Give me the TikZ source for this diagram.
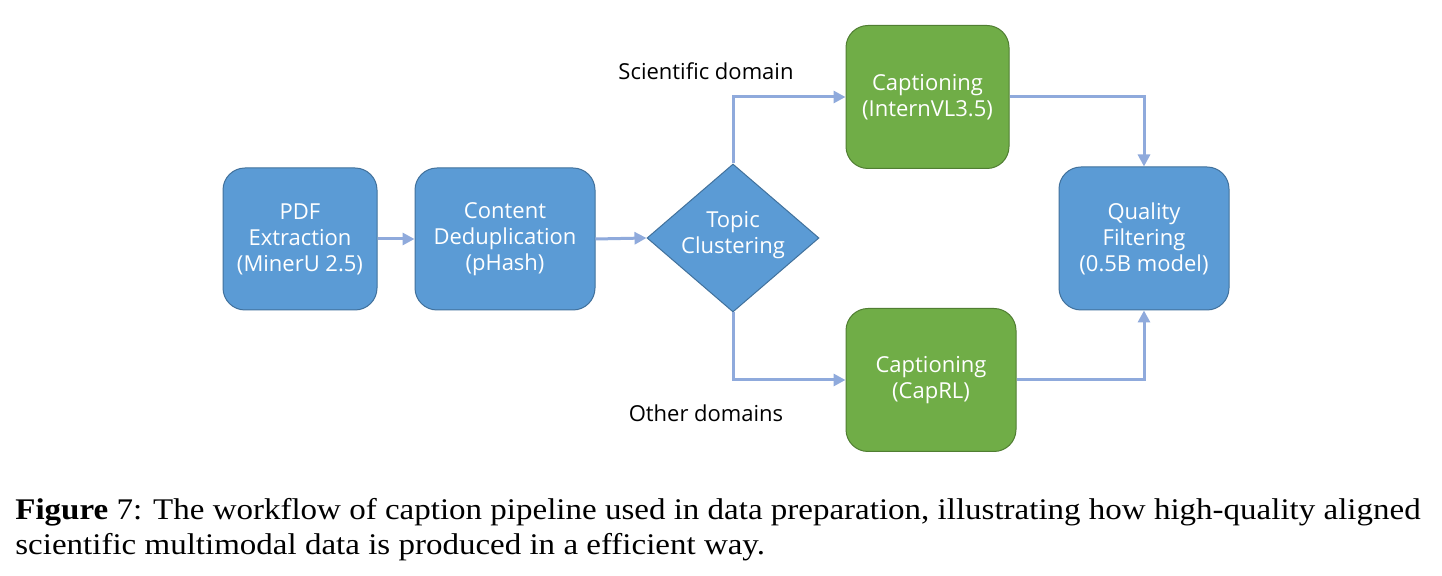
\documentclass[tikz,border=0pt]{standalone}
\usepackage{fontspec}
\setmainfont[FakeStretch=1.1]{Liberation Serif}
\newfontfamily\diagfont{Open Sans}
\usetikzlibrary{shapes.geometric,arrows.meta}
\definecolor{boxblue}{HTML}{5B9BD5}
\definecolor{boxblueline}{HTML}{41719C}
\definecolor{boxgreen}{HTML}{70AD47}
\definecolor{boxgreenline}{HTML}{507E32}
\definecolor{arrowblue}{HTML}{8FAADC}
\tikzset{
  bluebox/.style={draw=boxblueline, fill=boxblue, line width=0.5pt, rounded corners=11pt,
    text=white, align=center, inner sep=0pt, font=\diagfont\fontsize{11}{13}\selectfont},
  greenbox/.style={bluebox, draw=boxgreenline, fill=boxgreen},
  decision/.style={diamond, draw=boxblueline, fill=boxblue, line width=0.5pt, text=white,
    align=center, inner sep=0pt, aspect=1.16, minimum width=86pt, minimum height=74pt,
    font=\diagfont\fontsize{11}{13}\selectfont},
  flow/.style={draw=arrowblue, line width=1.5pt, -{Triangle[length=6pt,width=6pt]}},
  lbl/.style={font=\diagfont\fontsize{11}{13}\selectfont, text=black, inner sep=0pt},
  captext/.style={font=\fontsize{15}{18}\selectfont, anchor=base west, inner sep=0pt}
}
\begin{document}
\begin{tikzpicture}[x=0.5pt, y=-0.5pt]
\useasboundingbox[fill=white] (0,0) rectangle (1442,576);
\node[bluebox, minimum width=77pt, minimum height=71pt] (pdf) at (300,239) {PDF\\Extraction\\(MinerU 2.5)};
\node[bluebox, minimum width=90pt, minimum height=71pt] (cont) at (505,239) {Content\\Deduplication\\(pHash)};
\node[decision] (topic) at (733,238) {\raisebox{0pt}[\height][\dimexpr\depth+3pt\relax]{\begin{tabular}{@{}c@{}}Topic\\Clustering\end{tabular}}};
\node[greenbox, minimum width=81.5pt, minimum height=71.5pt] (cap1) at (927.5,97) {Captioning\\(InternVL3.5)};
\node[greenbox, minimum width=85pt, minimum height=71.5pt] (cap2) at (931,380) {Captioning\\(CapRL)};
\node[bluebox, minimum width=85pt, minimum height=71.5pt] (qual) at (1144,238.5) {Quality\\Filtering\\(0.5B model)};
\node[lbl] (sci) at (706,71) {Scientific domain};
\node[lbl] (oth) at (706,413) {Other domains};
\draw[flow] (pdf.east) -- (cont.west);
\draw[flow] (cont.east) -- (topic.west);
\draw[flow] (topic.north) |- (cap1.west);
\draw[flow] (topic.south) |- (cap2.west);
\draw[flow] (cap1.east) -| (qual.north);
\draw[flow] (cap2.east) -| (qual.south);
\node[captext] (c1) at (15,520) {\textbf{Figure} 7: The workflow of caption pipeline used in data preparation, illustrating how high-quality aligned};
\node[captext] (c2) at (15,555) {scientific multimodal data is produced in a efficient way.};
\end{tikzpicture}
\end{document}
